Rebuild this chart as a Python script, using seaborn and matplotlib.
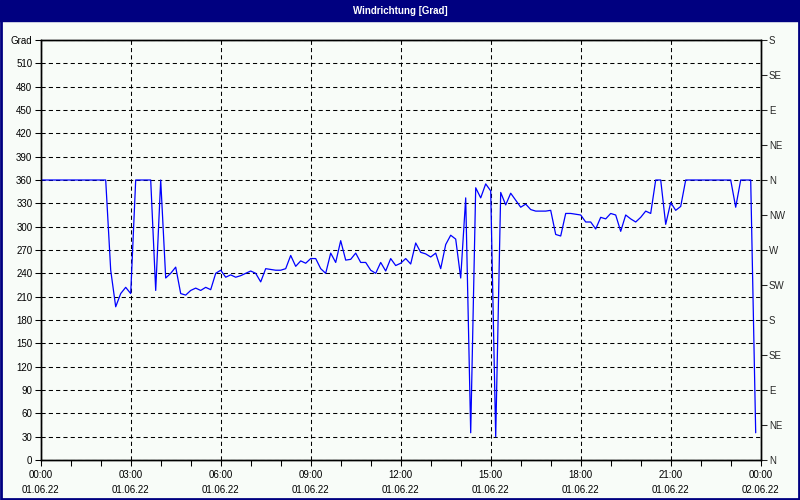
import matplotlib
matplotlib.use("Agg")
import matplotlib.pyplot as plt
import matplotlib.dates as mdates
from matplotlib.patches import Rectangle
import pandas as pd
import seaborn as sns

TITEL = "Windrichtung [Grad]"
START = "2022-06-01 00:00"
ENDE = "2022-06-02 00:00"

# Windrichtung in Grad, 10-Minuten-Werte ab 01.06.22 00:00
richtung = [
    360, 360, 360, 360, 360, 360, 360, 360, 360, 360, 360, 360, 360, 360,
    244, 197, 214, 222, 214, 360, 360, 360, 360, 218, 360, 234, 240, 248,
    214, 212, 218, 221, 218, 222, 219, 240, 244, 235, 238, 235, 237,
    240, 243, 240, 229, 246, 245, 244, 244, 246,
    263, 249, 256, 253, 259, 259, 246, 240, 266, 254,
    282, 257, 258, 266, 254, 254, 244, 240, 254, 243,
    259, 250, 253, 259, 252, 279, 267, 265, 261, 266,
    246, 277, 289, 284, 234, 337, 35, 350, 337, 355,
    346, 30, 344, 328, 343, 334, 325, 329, 322, 320,
    320, 320, 321, 290, 288, 317, 317, 316, 315, 306,
    306, 297, 312, 310, 317, 315, 294, 315, 310, 306,
    312, 320, 317, 360, 360, 303, 331, 321, 326, 360,
    360, 360, 360, 360, 360, 360, 360, 360, 360, 325,
    360, 360, 360, 35,
]

grad_ticks = list(range(0, 541, 30))
grad_labels = [str(g) for g in grad_ticks[:-1]] + ["Grad"]
himmel_ticks = list(range(0, 541, 45))
himmel_labels = ["N", "NE", "E", "SE", "S", "SW", "W", "NW", "N", "NE", "E", "SE", "S"]

BG = "#f8fcf8"
NAVY = "#000080"

sns.set_style("ticks", {"axes.facecolor": BG, "figure.facecolor": BG,
                        "axes.edgecolor": "black"})
plt.rcParams["font.family"] = ["Liberation Sans", "DejaVu Sans"]
plt.rcParams["font.size"] = 7

df = pd.DataFrame({
    "zeit": pd.date_range(START, periods=len(richtung), freq="10min"),
    "grad": richtung,
})

fig = plt.figure(figsize=(8, 5), dpi=100)
ax = fig.add_axes([40.7 / 800, 40 / 500, 720 / 800, 420 / 500])

sns.lineplot(data=df, x="zeit", y="grad", ax=ax, color="#0000ff",
             linewidth=0.9, estimator=None, zorder=3)

ax.set_xlim(pd.Timestamp(START), pd.Timestamp(ENDE))
ax.set_ylim(0, 540)
ax.set_xlabel("")
ax.set_ylabel("")

ax.xaxis.set_major_locator(mdates.HourLocator(byhour=range(0, 24, 3)))
ax.xaxis.set_minor_locator(mdates.HourLocator())
ax.xaxis.set_major_formatter(mdates.DateFormatter("%H:%M\n%d.%m.%y"))
ax.set_yticks(grad_ticks)
ax.set_yticklabels(grad_labels)

ax.grid(which="major", color="black", linestyle=(0, (4, 3)), linewidth=0.75)
ax.tick_params(axis="y", which="major", length=4, width=0.75, pad=2,
               labelsize=7, colors="black")
ax.tick_params(axis="x", which="both", length=4, width=0.75, pad=3,
               labelsize=7, colors="black")
for lbl in ax.get_xticklabels():
    lbl.set_linespacing(1.65)
for s in ax.spines.values():
    s.set_visible(True)
    s.set_linewidth(1)
    s.set_color("black")

ax2 = ax.twinx()
ax2.set_ylim(0, 540)
ax2.set_yticks(himmel_ticks)
ax2.set_yticklabels(himmel_labels)
ax2.tick_params(axis="y", length=4, width=0.75, pad=2, labelsize=7)
ax2.grid(False)
for s in ax2.spines.values():
    s.set_visible(True)
    s.set_linewidth(1)
    s.set_color("black")

# Titelleiste und Rahmen
fig.patches.append(Rectangle((0, 1 - 21 / 500), 1, 21 / 500,
                             transform=fig.transFigure, color=NAVY, zorder=0))
fig.patches.append(Rectangle((0.001, 0.002), 0.998, 0.996, transform=fig.transFigure,
                             fill=False, edgecolor=NAVY, linewidth=2, zorder=5))
fig.text(0.5, 1 - 10.5 / 500, TITEL, color="white", fontsize=7,
         fontweight="bold", ha="center", va="center")

fig.savefig("out.png", dpi=100, facecolor=BG)
plt.close(fig)
